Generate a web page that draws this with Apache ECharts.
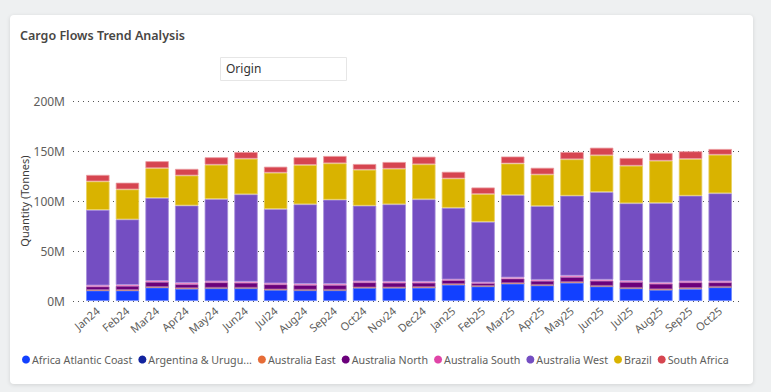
<!DOCTYPE html>
<html>
<head>
<meta charset="utf-8">
<script src="https://cdn.jsdelivr.net/npm/echarts@6/dist/echarts.min.js"></script>
<style>
  html,body{margin:0;padding:0;background:#eef0f1;width:771px;height:392px;overflow:hidden;}
  #card{position:absolute;left:10px;top:15px;width:743px;height:369px;background:#fff;border-radius:4px;box-shadow:0 1px 4px rgba(0,0,0,0.12);}
  #chart{position:absolute;left:0;top:0;width:771px;height:392px;}
</style>
</head>
<body>
<div id="card"></div>
<div id="chart"></div>
<script>
const categories = ['Jan24','Feb24','Mar24','Apr24','May24','Jun24','Jul24','Aug24','Sep24','Oct24','Nov24','Dec24','Jan25','Feb25','Mar25','Apr25','May25','Jun25','Jul25','Aug25','Sep25','Oct25'];
const yTicks = [0, 50, 100, 150, 200];
const africaAtlantic = [10.5,10.5,13.5,12.2,12.7,12.7,11,10.7,10.7,13,13,13.3,16.3,14.6,17.3,15.6,18.3,14.6,12.6,11,12,13.7];
const argentinaUruguay = [0.3,0.3,0.3,0.3,0.3,0.3,0.3,0.3,0.3,0.3,0.3,0.3,0.3,0.3,0.3,0.3,0.3,0.3,0.3,0.3,0.7,0.3];
const australiaEast = [0.3,0.3,0.3,0.3,0.3,0.3,0.3,0.3,0.3,0.3,0.3,0.3,0.3,0.3,0.3,0.3,0.3,0.3,0.3,0.4,0.3,0.3];
const australiaNorth = [3.5,4,5,4,5.4,5,5.1,4.7,4.7,5.1,4.7,4.4,4,2.7,4.6,4,5.1,5.1,5.8,5.6,5.7,4.4];
const australiaSouth = [1,1,1,1.3,1,1,1,1,1,1,1,1,0.6,0.6,1,1,1.3,1,1,1,1,1];
const australiaWest = [75.5,65.5,83,77.4,82.3,87.4,74.3,79.7,84.3,75.6,77.4,82.4,71.7,60.7,82.4,73.7,80,87.7,77.7,79.7,85.6,88];
const brazil = [28.5,30,29.7,30,34.3,35.6,36.3,39.3,36.4,36,35.6,35,29.3,27.7,31.6,31.6,36.4,36.7,37.6,42.3,36.7,38.6];
const southAfrica = [6.5,6.7,7,6.6,7.4,6.7,6,7.7,7.3,5.7,6.7,7.6,6.7,6.6,7,6.7,7.3,7.6,7.7,7.7,7.7,5.7];

const seriesDefs = [
  {name:'Africa Atlantic Coast', data:africaAtlantic, color:'#1240FF', border:'#6f88ff'},
  {name:'Argentina & Uruguay', data:argentinaUruguay, color:'#12239E', border:'#5a66c0'},
  {name:'Australia East', data:australiaEast, color:'#E66C37', border:'#f0a07c'},
  {name:'Australia North', data:australiaNorth, color:'#6B007B', border:'#a060aa'},
  {name:'Australia South', data:australiaSouth, color:'#E044A7', border:'#ec85c6'},
  {name:'Australia West', data:australiaWest, color:'#744EC2', border:'#a78fdb'},
  {name:'Brazil', data:brazil, color:'#D9B300', border:'#e8d060'},
  {name:'South Africa', data:southAfrica, color:'#D64550', border:'#eb9aa0'}
];

const font = '"Noto Sans", "Open Sans", sans-serif';
const chart = echarts.init(document.getElementById('chart'), null, {renderer:'svg'});
chart.setOption({
  backgroundColor:'transparent',
  animation:false,
  textStyle:{fontFamily:font},
  title:{text:'Cargo Flows Trend Analysis', left:20, top:29, padding:0, textStyle:{fontSize:12.5, fontWeight:600, color:'#484644', fontFamily:font}},
  graphic:[
    {type:'rect', left:220, top:57, shape:{width:126, height:23}, style:{fill:'#fff', stroke:'#e6e6e6', lineWidth:1}},
    {type:'text', left:226, top:62, style:{text:'Origin', fontSize:12, fill:'#333', fontFamily:font}}
  ],
  legend:{
    left:22, top:354, width:745, padding:0, icon:'circle', itemWidth:8, itemHeight:8, itemGap:6,
    itemStyle:{borderWidth:0},
    textStyle:{fontSize:10.7, color:'#605E5C', padding:[0,0,0,-3]},
    formatter:function(n){ return n === 'Argentina & Uruguay' ? 'Argentina & Urugu...' : n; },
    data:seriesDefs.map(s=>s.name)
  },
  grid:[
    {left:83, right:36, top:101, bottom:91},
    {left:73, right:30, top:101, bottom:91}
  ],
  xAxis:[
    {type:'category', gridIndex:0, data:categories,
     axisLine:{show:false}, axisTick:{show:false},
     axisLabel:{rotate:40, fontSize:11, color:'#605E5C', margin:8, interval:0}},
    {type:'value', gridIndex:1, min:0, max:1, show:false}
  ],
  yAxis:[
    {type:'value', gridIndex:0, min:0, max:200, interval:50, show:false},
    {type:'value', gridIndex:1, min:yTicks[0], max:yTicks[yTicks.length-1], interval:50,
     name:'Quantity (Tonnes)', nameLocation:'middle', nameGap:43, nameMoveOverlap:false,
     nameTextStyle:{fontSize:11, color:'#3b3a39'},
     axisLine:{show:false}, axisTick:{show:false},
     axisLabel:{fontSize:12, color:'#605E5C', margin:8, formatter:v=>v+'M'},
     splitLine:{show:true, lineStyle:{type:[1,4], color:'#555', width:1}}}
  ],
  series:seriesDefs.map(s=>({
    name:s.name, type:'bar', stack:'total', xAxisIndex:0, yAxisIndex:0,
    data:s.data, barCategoryGap:'21%',
    itemStyle:{color:s.color, borderColor:s.border, borderWidth:0.8}
  }))
});
</script>
</body>
</html>
